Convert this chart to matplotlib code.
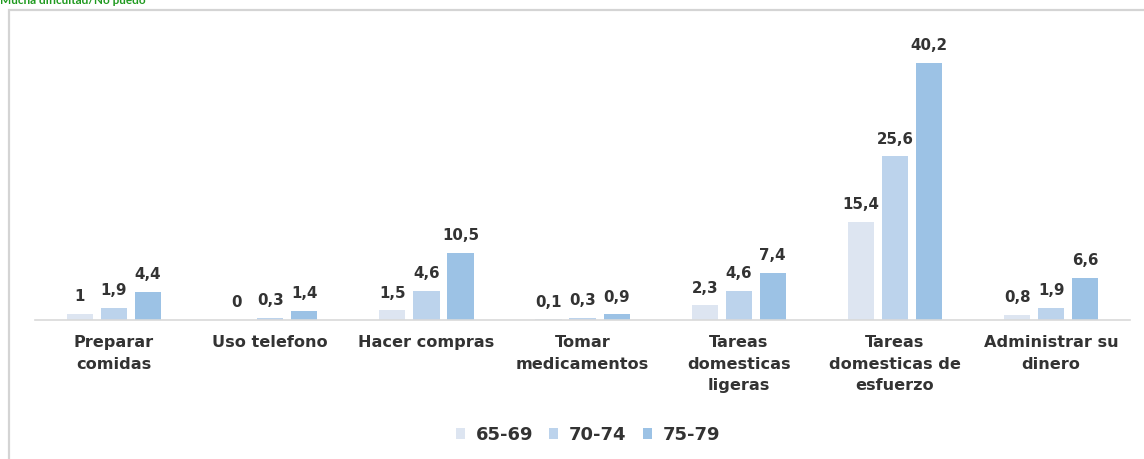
import matplotlib.pyplot as plt
import matplotlib.patches as mpatches
import numpy as np

categorias = ["Preparar\ncomidas", "Uso telefono", "Hacer compras",
              "Tomar\nmedicamentos", "Tareas\ndomesticas\nligeras",
              "Tareas\ndomesticas de\nesfuerzo", "Administrar su\ndinero"]
grupos = ["65-69", "70-74", "75-79"]
v_65_69 = [1, 0, 1.5, 0.1, 2.3, 15.4, 0.8]
v_70_74 = [1.9, 0.3, 4.6, 0.3, 4.6, 25.6, 1.9]
v_75_79 = [4.4, 1.4, 10.5, 0.9, 7.4, 40.2, 6.6]
colores = ["#dde5f1", "#bcd3ec", "#9cc2e5"]

W, H = 1144, 459
plt.rcParams['font.family'] = ['DejaVu Sans']
fig = plt.figure(figsize=(W / 100, H / 100), dpi=100)

# marco del grafico
fig.patches.append(mpatches.Rectangle((9 / W, -0.1), 1.2, 1.1 - 10 / H, transform=fig.transFigure,
                                      facecolor='none', edgecolor='#d4d4d4', lw=1.6))
fig.text(0.0, 1 - 4 / H, "Mucha dificultad/No puedo", color='#1f9a1f', fontsize=8.5,
         fontweight='bold', ha='left', va='baseline', family='Lato')

ax = fig.add_axes([35 / W, 1 - 320 / H, 1095 / W, 287.7 / H])
ax.set_xlim(-0.506, 6.505)
ax.set_ylim(0, 45)

x = np.arange(len(categorias))
ancho = 0.168
paso = 0.218
series = [v_65_69, v_70_74, v_75_79]
for i, (vals, col, g) in enumerate(zip(series, colores, grupos)):
    pos = x + (i - 1) * paso
    barras = ax.bar(pos, vals, ancho, color=col, label=g, zorder=2)
    for p, v in zip(pos, vals):
        ax.annotate(f"{v:g}".replace('.', ','), (p, v), xytext=(0, 7),
                    textcoords='offset points', ha='center', va='bottom',
                    fontsize=10.8, fontweight='bold', color='#333333')

for s in ['top', 'right', 'left']:
    ax.spines[s].set_visible(False)
ax.spines['bottom'].set_color('#d9d9d9')
ax.spines['bottom'].set_linewidth(1.2)
ax.set_yticks([])
ax.set_xticks(x)
ax.set_xticklabels(categorias, fontsize=11.6, fontweight='bold', color='#333333',
                   linespacing=1.55)
ax.tick_params(axis='x', length=0, pad=11)

leg = fig.legend(loc='center', bbox_to_anchor=(588 / W, 1 - 435 / H), ncol=3,
                 frameon=False, handlelength=0.5, handleheight=0.5,
                 columnspacing=0.9, handletextpad=0.6,
                 prop={'weight': 'bold', 'size': 13})
for t in leg.get_texts():
    t.set_color('#333333')

fig.savefig('out.png', dpi=100)
